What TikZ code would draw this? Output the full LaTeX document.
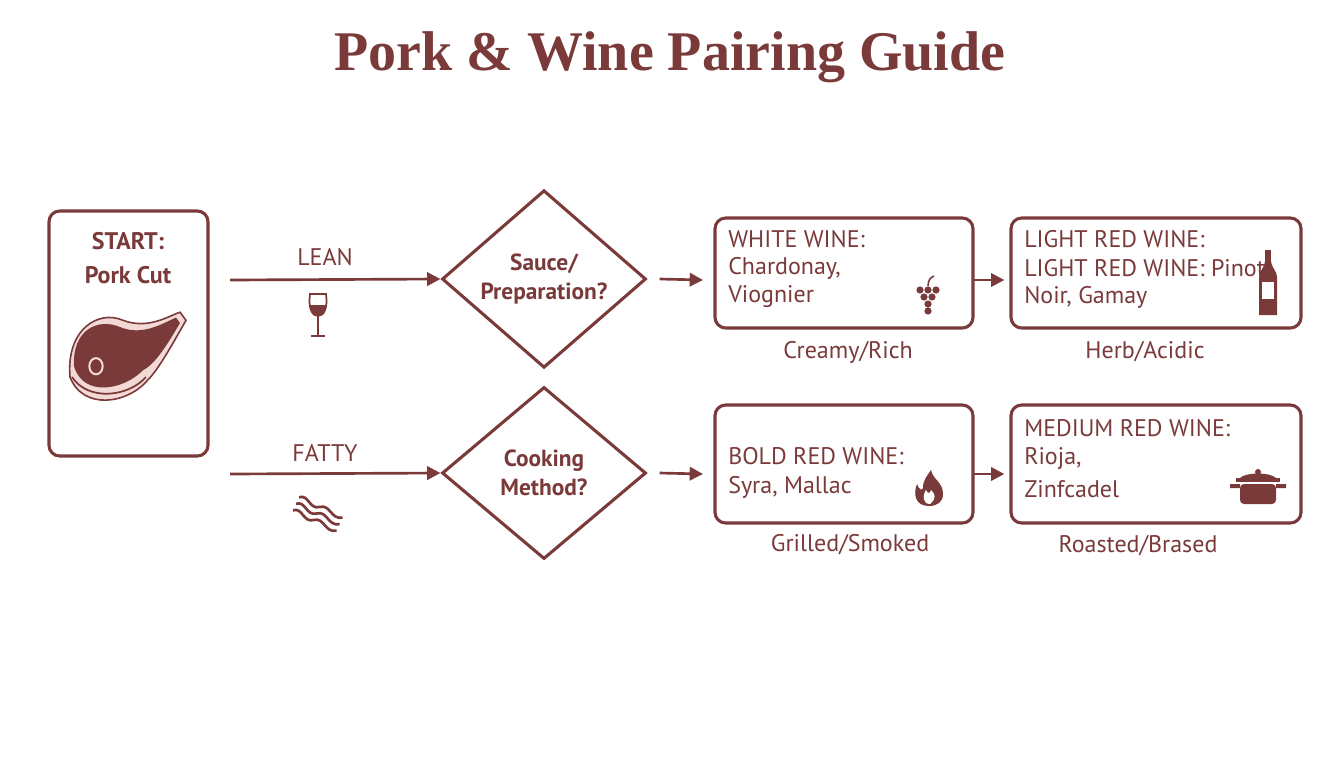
\documentclass[tikz,border=0pt]{standalone}
\usepackage{fontspec}
\setmainfont{PT Sans}
\newfontfamily\titlefont{Liberation Serif}
\usetikzlibrary{arrows.meta,shapes.geometric}
\definecolor{wine}{HTML}{7A3A3A}
\definecolor{pinkfat}{HTML}{F3D9D6}
\begin{document}
\begin{tikzpicture}[x=0.75pt,y=-0.75pt,
  box/.style={draw=wine,line width=2.3pt,rounded corners=8pt},
  dia/.style={draw=wine,line width=2.3pt,diamond,minimum width=204*0.75pt,minimum height=172*0.75pt,inner sep=0pt,align=center,font=\bfseries\fontsize{17.5}{22}\selectfont,text=wine},
  arr/.style={draw=wine,line width=2pt,-{Triangle[length=10pt,width=10pt]}},
  txt/.style={text=wine,font=\fontsize{18}{22}\selectfont},
  lab/.style={text=wine,font=\fontsize{18}{22}\selectfont,anchor=west,inner sep=0pt}]
\useasboundingbox[fill=white] (0,0) rectangle (1344,768);
\node[text=wine,font=\titlefont\bfseries\fontsize{42}{48}\selectfont] (title) at (670,57) {Pork \& Wine Pairing Guide};
% start box
\draw[box] (49,211) rectangle (208,456);
\node[txt,font=\bfseries\fontsize{18}{25}\selectfont,align=center] (st) at (128,258) {START:\\Pork Cut};
% meat icon
\begin{scope}[shift={(128,350)},yscale=1.35,xscale=1.0]
\fill[pinkfat,draw=wine,line width=1.2pt] (-58,20) .. controls (-62,-15) and (-30,-30) .. (-5,-22) .. controls (20,-15) and (40,-25) .. (52,-28) -- (58,-22) .. controls (45,-5) and (30,15) .. (20,22) .. controls (0,40) and (-45,45) .. (-58,20) -- cycle;
\fill[wine] (-54,12) .. controls (-56,-15) and (-30,-24) .. (-8,-17) .. controls (15,-10) and (35,-20) .. (48,-24) -- (52,-20) .. controls (40,-5) and (28,10) .. (15,15) .. controls (-5,30) and (-45,35) .. (-54,12) -- cycle;
\draw[pinkfat,line width=1.5pt] (-32,12) ellipse (5pt and 4.5pt);
\draw[wine,line width=1.3pt] (-56,20) .. controls (-40,38) and (0,35) .. (18,20);
\end{scope}
% arrows left
\coordinate (la) at (230,280);
\coordinate (fa) at (230,474);
\node[dia] (d1) at (544,279) {Sauce/\\Preparation?};
\node[dia] (d2) at (544,473) {Cooking\\Method?};
\draw[arr] (la) -- (d1.west);
\draw[arr] (fa) -- (d2.west);
\node[txt] (lean) at (325,257) {LEAN};
\node[txt] (fatty) at (325,453) {FATTY};
% wine glass
\begin{scope}[shift={(318,310)}]
\draw[wine,line width=1.3pt] (-8,-16) -- (8,-16) .. controls (10,-2) and (6,6) .. (0,6) .. controls (-6,6) and (-10,-2) .. (-8,-16) -- cycle;
\fill[wine] (-8.5,-5) -- (8.5,-5) .. controls (7,4) and (3,6) .. (0,6) .. controls (-3,6) and (-7,4) .. (-8.5,-5) -- cycle;
\draw[wine,line width=1.3pt] (0,6) -- (0,26) (-7,26) -- (7,26);
\end{scope}
% bacon
\begin{scope}[shift={(320,515)},line width=2pt,wine,rotate=-25,scale=1.2]
\foreach \o in {-6,0,6}{
\draw (-22,\o) .. controls (-16,-6+\o) and (-10,6+\o) .. (-3,\o) .. controls (4,-6+\o) and (10,6+\o) .. (18,\o);}
\end{scope}
% right boxes
\draw[box] (715,218) rectangle (973,328);
\draw[box] (1011,218) rectangle (1301,328);
\draw[box] (715,405) rectangle (973,523);
\draw[box] (1011,405) rectangle (1301,523);
\coordinate (ww) at (715,280);
\coordinate (wwr) at (973,280);
\coordinate (lr) at (1011,280);
\coordinate (br) at (715,474);
\coordinate (brr) at (973,474);
\coordinate (mr) at (1011,474);
\draw[arr] ([xshift=9]d1.east) -- ([xshift=-9]ww);
\draw[arr] ([xshift=9]d2.east) -- ([xshift=-9]br);
\draw[arr] (wwr) -- ([xshift=-5]lr);
\draw[arr] (brr) -- ([xshift=-5]mr);
\node[lab] (t1) at (728,239) {WHITE WINE:};
\node[lab] (t2) at (728,268) {Chardonay,};
\node[lab] (t3) at (728,297) {Viognier};
\node[lab] (u1) at (1024,239) {LIGHT RED WINE:};
\node[lab] (u2) at (1024,268) {LIGHT RED WINE: Pinot};
\node[lab] (u3) at (1024,297) {Noir, Gamay};
\node[lab] (v1) at (728,456) {BOLD RED WINE:};
\node[lab] (v2) at (728,487) {Syra, Mallac};
\node[lab] (w1) at (1024,428) {MEDIUM RED WINE:};
\node[lab] (w2) at (1024,459) {Rioja,};
\node[lab] (w3) at (1024,489) {Zinfcadel};
\node[txt] (c1) at (848,352) {Creamy/Rich};
\node[txt] (c2) at (1145,352) {Herb/Acidic};
\node[txt] (c3) at (850,545) {Grilled/Smoked};
\node[txt] (c4) at (1138,546) {Roasted/Brased};
% grapes
\begin{scope}[shift={(928,298)}]
\foreach \p in {(-8,-8),(0,-8),(8,-8),(-4,-1),(4,-1),(0,6),(0,13)} \fill[wine] \p circle (3.6);
\draw[wine,line width=1.2pt] (0,-12) .. controls (0,-18) and (3,-21) .. (6,-22);
\end{scope}
% bottle
\begin{scope}[shift={(1268,285)}]
\fill[wine] (-3,-35) rectangle (3,-24);
\fill[wine] (-3,-24) -- (3,-24) .. controls (4,-16) and (9,-14) .. (9,-8) -- (9,30) -- (-9,30) -- (-9,-8) .. controls (-9,-14) and (-4,-16) .. (-3,-24) -- cycle;
\fill[white] (-6,-3) rectangle (6,14);
\end{scope}
% flame
\begin{scope}[shift={(929,490)}]
\fill[wine] (0,16) .. controls (-14,16) and (-16,4) .. (-12,-6) .. controls (-10,0) and (-7,1) .. (-6,-2) .. controls (-6,-10) and (-2,-14) .. (2,-20) .. controls (4,-10) and (14,-8) .. (14,4) .. controls (14,12) and (8,16) .. (0,16) -- cycle;
\fill[white] (1,14) .. controls (-6,14) and (-7,6) .. (-3,0) .. controls (-1,4) and (1,4) .. (2,0) .. controls (6,4) and (8,8) .. (1,14) -- cycle;
\end{scope}
% pot
\begin{scope}[shift={(1258,488)}]
\fill[wine,rounded corners=3pt] (-18,-4) -- (18,-4) -- (18,16) -- (-18,16) -- cycle;
\fill[wine] (-22,-10) rectangle (22,-6);
\fill[wine] (-18,-10) .. controls (-12,-16) and (12,-16) .. (18,-10) -- cycle;
\fill[wine] (0,-16) circle (3);
\fill[wine] (-28,-4) rectangle (-18,0) (18,-4) rectangle (28,0);
\end{scope}
\end{tikzpicture}
\end{document}
